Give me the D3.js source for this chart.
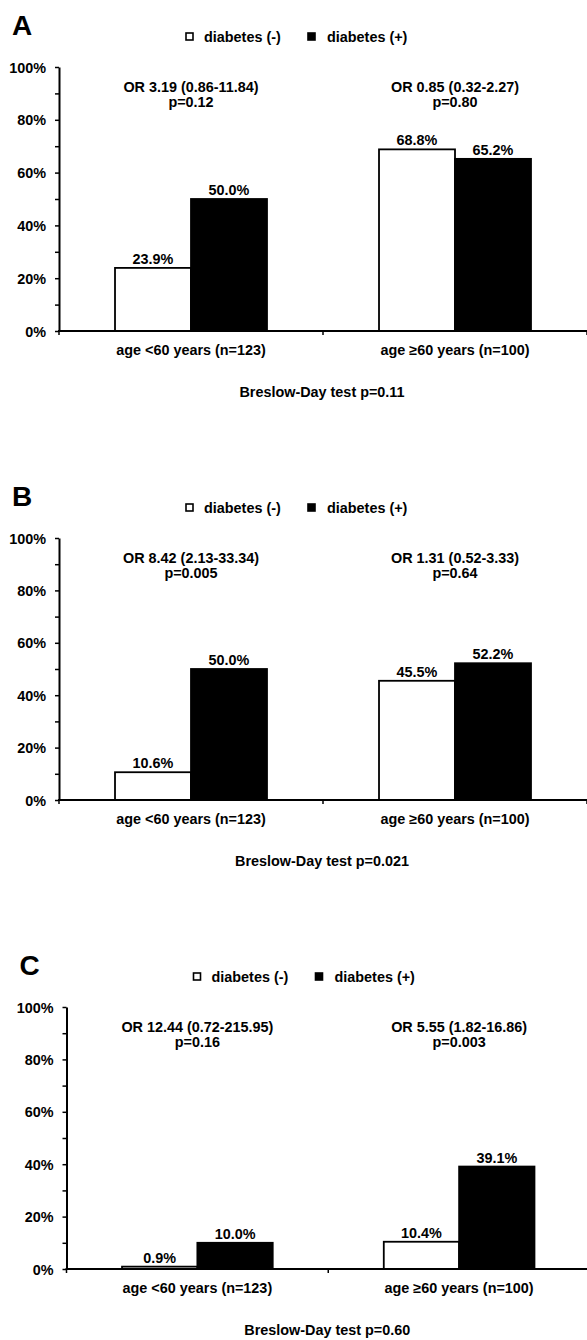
<!DOCTYPE html>
<html>
<head>
<meta charset="utf-8">
<script src="https://cdn.jsdelivr.net/npm/d3@7"></script>
<style>
  html, body { margin: 0; padding: 0; background: #fff; }
  svg { display: block; }
  text { font-family: "Liberation Sans", Arial, sans-serif; font-weight: bold; fill: #000; }
</style>
</head>
<body>
<svg id="chart" width="587" height="1340"></svg>
<script>
// ---------------- data ----------------
const categories = ["age <60 years (n=123)", "age \u226560 years (n=100)"];
const seriesNames = ["diabetes (-)", "diabetes (+)"];
const panelLetters = ["A", "B", "C"];

const diabetesNegA = [23.9, 68.8];
const diabetesPosA = [50.0, 65.2];
const diabetesNegB = [10.6, 45.5];
const diabetesPosB = [50.0, 52.2];
const diabetesNegC = [0.9, 10.4];
const diabetesPosC = [10.0, 39.1];

const orTextA = ["OR 3.19 (0.86-11.84)", "OR 0.85 (0.32-2.27)"];
const pTextA  = ["p=0.12", "p=0.80"];
const orTextB = ["OR 8.42 (2.13-33.34)", "OR 1.31 (0.52-3.33)"];
const pTextB  = ["p=0.005", "p=0.64"];
const orTextC = ["OR 12.44 (0.72-215.95)", "OR 5.55 (1.82-16.86)"];
const pTextC  = ["p=0.16", "p=0.003"];

const breslowTexts = ["Breslow-Day test p=0.11", "Breslow-Day test p=0.021", "Breslow-Day test p=0.60"];

const majorTicks = [0, 20, 40, 60, 80, 100];
const minorTicks = [10, 30, 50, 70, 90];
const tickLabels = ["0%", "20%", "40%", "60%", "80%", "100%"];

// ---------------- layout ----------------
const panels = [
  { letter: panelLetters[0], neg: diabetesNegA, pos: diabetesPosA, or: orTextA, p: pTextA, bres: breslowTexts[0],
    left: 59, right: 587, top: 67, bottom: 331 },
  { letter: panelLetters[1], neg: diabetesNegB, pos: diabetesPosB, or: orTextB, p: pTextB, bres: breslowTexts[1],
    left: 59, right: 587, top: 538, bottom: 800 },
  { letter: panelLetters[2], neg: diabetesNegC, pos: diabetesPosC, or: orTextC, p: pTextC, bres: breslowTexts[2],
    left: 66.5, right: 590, top: 1007, bottom: 1269 }
];

const svg = d3.select("#chart");
const FS = 14.4;

panels.forEach(P => {
  const g = svg.append("g");
  const y = d3.scaleLinear().domain([0, 100]).range([P.bottom, P.top]);
  const x0 = d3.scaleBand().domain(categories).range([P.left, P.right]).paddingInner(0).paddingOuter(0);
  const x1 = d3.scaleBand().domain(seriesNames).range([0, x0.bandwidth()]).paddingInner(0).paddingOuter(0.737);

  // panel letter
  g.append("text").attr("x", P.left - 47).attr("y", P.top - 32)
    .style("font-size", "28px").text(P.letter);

  // legend
  const legY = P.top - 30;
  const legItems = [
    { name: seriesNames[0], fill: "#fff", sx: P.left + 127, tx: P.left + 145 },
    { name: seriesNames[1], fill: "#000", sx: P.left + 249, tx: P.left + 268 }
  ];
  legItems.forEach(it => {
    g.append("rect").attr("x", it.sx).attr("y", legY - 4).attr("width", 7).attr("height", 7)
      .attr("fill", it.fill).attr("stroke", "#000").attr("stroke-width", 1.6);
    g.append("text").attr("x", it.tx).attr("y", legY + 5).style("font-size", FS + "px").text(it.name);
  });

  // y axis (minor + major ticks)
  const yAxis = d3.axisLeft(y)
    .tickValues(majorTicks.concat(minorTicks).sort((a, b) => a - b))
    .tickSize(4).tickSizeOuter(0)
    .tickFormat(d => { const i = majorTicks.indexOf(d); return i >= 0 ? tickLabels[i] : ""; });
  const ya = g.append("g").attr("transform", `translate(${P.left},0)`).call(yAxis);
  ya.select(".domain").attr("stroke", "#000").attr("stroke-width", 2);
  ya.selectAll(".tick line").attr("stroke", "#000").attr("stroke-width", 1.5);
  ya.selectAll(".tick text").attr("x", -13).attr("dy", "0.36em")
    .style("font-size", FS + "px").style("font-family", "'Liberation Sans', Arial, sans-serif")
    .style("font-weight", "bold").attr("fill", "#000");

  // bars
  categories.forEach((cat, ci) => {
    const vals = [P.neg[ci], P.pos[ci]];
    seriesNames.forEach((s, si) => {
      const v = vals[si];
      const bx = x0(cat) + x1(s);
      g.append("rect")
        .attr("x", bx).attr("y", y(v))
        .attr("width", x1.bandwidth()).attr("height", y(0) - y(v))
        .attr("fill", si === 0 ? "#fff" : "#000")
        .attr("stroke", "#000").attr("stroke-width", 1.8);
      g.append("text")
        .attr("x", bx + x1.bandwidth() / 2).attr("y", y(v) - 4)
        .attr("text-anchor", "middle").style("font-size", FS + "px")
        .text(v.toFixed(1) + "%");
    });
    // OR + p text
    const cx = x0(cat) + x0.bandwidth() / 2;
    g.append("text").attr("x", cx).attr("y", P.top + 25).attr("text-anchor", "middle")
      .style("font-size", FS + "px").text(P.or[ci]);
    g.append("text").attr("x", cx).attr("y", P.top + 40).attr("text-anchor", "middle")
      .style("font-size", FS + "px").text(P.p[ci]);
    // category label
    g.append("text").attr("x", cx).attr("y", P.bottom + 24).attr("text-anchor", "middle")
      .style("font-size", FS + "px").text(cat);
  });

  // x axis line + boundary ticks
  g.append("line").attr("x1", P.left - 1).attr("x2", P.right).attr("y1", y(0)).attr("y2", y(0))
    .attr("stroke", "#000").attr("stroke-width", 2);
  const bounds = [x0(categories[0]), x0(categories[1]), x0(categories[1]) + x0.bandwidth()];
  bounds.forEach(bx => {
    g.append("line").attr("x1", bx).attr("x2", bx).attr("y1", y(0)).attr("y2", y(0) + 4)
      .attr("stroke", "#000").attr("stroke-width", 1.5);
  });

  // Breslow-Day text
  g.append("text").attr("x", x0(categories[1]) - 1).attr("y", P.bottom + 66).attr("text-anchor", "middle")
    .style("font-size", FS + "px").text(P.bres);
});
</script>
</body>
</html>
